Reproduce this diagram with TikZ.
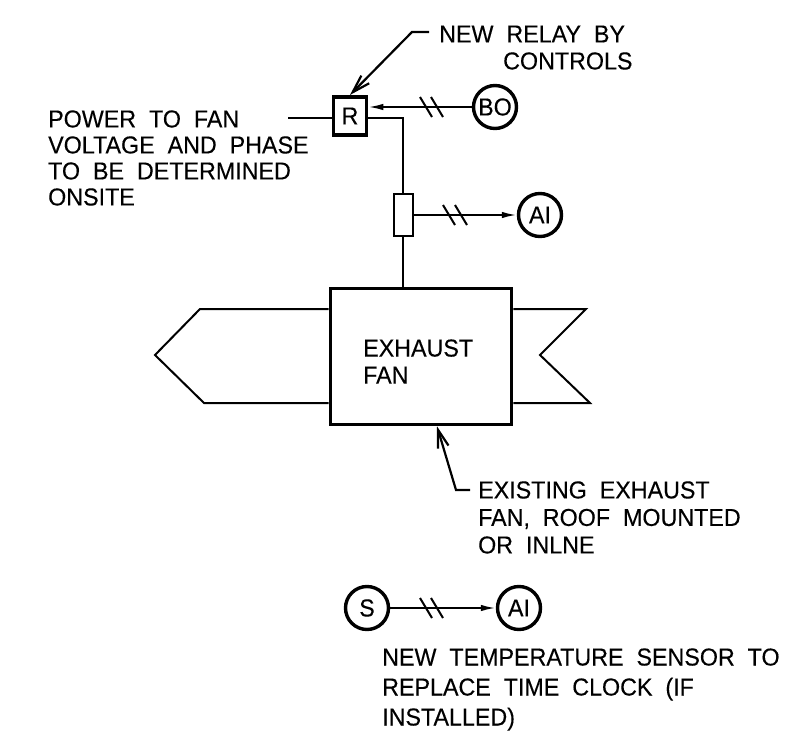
\documentclass[tikz,border=0pt]{standalone}
\usepackage{fontspec}
\setmainfont[WordSpace=2.0,FakeStretch=0.95,FakeBold=0.25]{Liberation Sans}
\usetikzlibrary{calc}
\usetikzlibrary{arrows}
\usetikzlibrary{arrows.meta}
\tikzset{
  thinline/.style={line width=2pt},
  thickline/.style={line width=3.6pt},
  label/.style={font=\fontsize{24.5}{27}\selectfont, inner sep=0, anchor=west, align=left},
  point/.style={draw, circle, line width=3.4pt, minimum size=43pt, inner sep=0, font=\fontsize{24.5}{27}\selectfont},
  signal/.style={thinline, -{Latex[length=15pt,width=6.5pt]}},
  leader/.style={line width=2.2pt, -{Straight Barb[length=18pt,width=11pt]}},
}
\begin{document}
\begin{tikzpicture}[x=1pt, y=-1pt]
\useasboundingbox (0,0) rectangle (796,749);
\node[draw, thickline, minimum width=33pt, minimum height=38.5pt, inner sep=0, font=\fontsize{24.5}{27}\selectfont] (R) at (350,116) {R};
\node[draw, thinline, minimum width=19pt, minimum height=42.5pt, inner sep=0] (sensor) at (403,215) {};
\node[draw, thickline, minimum width=181pt, minimum height=136pt, inner sep=0] (fan) at (421,356.5) {};
\node[point] (BO) at (495,107) {BO};
\node[point] (AI) at (540,215) {AI};
\node[point] (S) at (367,608) {S};
\node[point] (AItwo) at (519,608) {AI};
% labels
\node[label] (relay) at (439,34) {NEW RELAY BY};
\node[label] (controls) at (503,61) {CONTROLS};
\node[label, font=\fontsize{24.5}{26}\selectfont] (power) at (48,158) {POWER TO FAN\\VOLTAGE AND PHASE\\TO BE DETERMINED\\ONSITE};
\node[label] (exhaust) at (363,361.5) {EXHAUST\\FAN};
\node[label, font=\fontsize{24.5}{27.5}\selectfont] (existing) at (478,517.5) {EXISTING EXHAUST\\FAN, ROOF MOUNTED\\OR INLNE};
\node[label, font=\fontsize{24.5}{30}\selectfont] (temp) at (382,689.5) {NEW TEMPERATURE SENSOR TO\\REPLACE TIME CLOCK (IF\\INSTALLED)};
% wiring
\coordinate (feed) at (288,118.5);
\coordinate (Rout) at (R.east |- feed);
\draw[thinline] (feed) -- (feed -| R.west);
\draw[thinline] (Rout) -| (sensor.north);
\draw[thinline] (sensor.south) -- (sensor.south |- fan.north);
\draw[signal] (BO) -- (BO -| R.east);
\draw[signal] (sensor) -- (AI);
\draw[signal] (S) -- (AItwo);
\foreach \tx/\ty in {426/107, 437/107, 449/215, 461/215, 426/608, 437/608}
  \draw[thinline] (\tx-6,\ty-10) -- (\tx+6,\ty+10);
% duct
\draw[thinline] (fan.west |- 0,309) -- (200,309) -- (155,355) -- (204,403) -- (fan.west |- 0,403);
\draw[thinline] (fan.east |- 0,309) -- (586,309) -- (540,355) -- (590,403) -- (fan.east |- 0,403);
% leaders
\coordinate (relayend) at (429,32);
\coordinate (fanend) at (470,490);
\draw[leader] (relayend) -- (412,32) -- (R.north);
\draw[leader] (fanend) -- (456,490) -- ($(fan.south)+(16,0)$);
\end{tikzpicture}
\end{document}
